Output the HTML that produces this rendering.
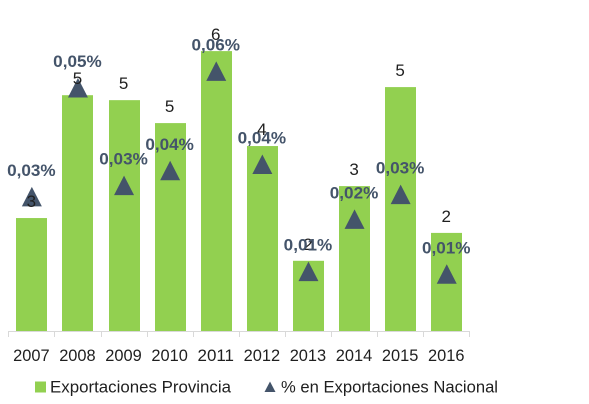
<!DOCTYPE html>
<html lang="es">
<head>
<meta charset="utf-8">
<title>Exportaciones Provincia</title>
<style>
html,body{margin:0;padding:0;background:#fff;}
body{width:589px;height:404px;overflow:hidden;}
svg{display:block;font-family:"Liberation Sans",sans-serif;}
</style>
</head>
<body>
<svg id="chart" width="589" height="404" viewBox="0 0 589 404" xmlns="http://www.w3.org/2000/svg">
  <rect x="0" y="0" width="589" height="404" fill="#ffffff"/>
  <g id="bars"></g>
  <g id="axis"></g>
  <g id="markers"></g>
  <g id="barLabels"></g>
  <g id="pctLabels"></g>
  <g>
    <g>
      <rect x="35" y="381.5" width="11" height="11" fill="#92D050"/>
      <text x="50" y="392.5" font-size="17" fill="#1f1f1f" textLength="181" lengthAdjust="spacingAndGlyphs">Exportaciones Provincia</text>
    </g>
    <g>
      <polygon points="270,381.5 275.5,392 264.5,392" fill="#44546A"/>
      <text x="281" y="392.5" font-size="17" fill="#1f1f1f" textLength="217" lengthAdjust="spacingAndGlyphs">% en Exportaciones Nacional</text>
    </g>
  </g>
</svg>
<script>
const categories = ["2007","2008","2009","2010","2011","2012","2013","2014","2015","2016"];
const exportValues = [2.51,5.24,5.13,4.62,6.22,4.11,1.56,3.22,5.42,2.18];
const percentValues = [0.0298,0.054,0.0323,0.0356,0.0577,0.037,0.0132,0.0248,0.0303,0.0126];

const NS = "http://www.w3.org/2000/svg";
const plotLeft = 8.8, bandWidth = 46.1, baseY = 331;
const barPxPerUnit = 45, pctPxPerUnit = 4500, barWidth = 31;

function xScale(i){ return plotLeft + bandWidth * (i + 0.5); }
function yBar(v){ return baseY - v * barPxPerUnit; }
function yPct(v){ return baseY - v * pctPxPerUnit; }
function make(tag, attrs, parent){
  const el = document.createElementNS(NS, tag);
  for (const k in attrs) el.setAttribute(k, attrs[k]);
  parent.appendChild(el);
  return el;
}

const barsG = document.getElementById("bars");
const axisG = document.getElementById("axis");
const markersG = document.getElementById("markers");
const barLabelsG = document.getElementById("barLabels");
const pctLabelsG = document.getElementById("pctLabels");

const axisLine = make("line", {x1: plotLeft, x2: plotLeft + bandWidth * categories.length, y1: baseY + 0.5, y2: baseY + 0.5, stroke: "#D9D9D9", "stroke-width": 1}, axisG);



for (let t = 0; t <= categories.length; t++) {
  const tx = Math.round(plotLeft + bandWidth * t - 0.5) + 0.5;
  const tick = make("line", {x1: tx, x2: tx, y1: baseY, y2: baseY + 6, stroke: "#D9D9D9", "stroke-width": 1}, axisG);
  
  
}

categories.forEach(function(cat, i){
  const cx = xScale(i);

  const bar = make("rect", {x: Math.round(cx - barWidth / 2), y: yBar(exportValues[i]), width: barWidth, height: baseY - yBar(exportValues[i]), fill: "#92D050"}, barsG);
  
  

  const yearLabel = make("text", {x: cx - 0.5, y: 361, "font-size": 17, fill: "#1f1f1f", "text-anchor": "middle", textLength: 36.5, lengthAdjust: "spacingAndGlyphs"}, axisG);
  yearLabel.textContent = cat;
  
  

  const my = yPct(percentValues[i]);
  const marker = make("polygon", {points: cx + "," + (my - 10) + " " + (cx + 10) + "," + (my + 9.5) + " " + (cx - 10) + "," + (my + 9.5), fill: "#44546A"}, markersG);
  
  

  const barLabel = make("text", {x: cx - 0.5, y: yBar(exportValues[i]) - 11, "font-size": 17, fill: "#1f1f1f", "text-anchor": "middle"}, barLabelsG);
  barLabel.textContent = exportValues[i].toFixed(0);
  
  

  const pctLabel = make("text", {x: cx - 0.5, y: my - 21, "font-size": 17, "font-weight": "bold", fill: "#44546A", "text-anchor": "middle", textLength: 48.5, lengthAdjust: "spacingAndGlyphs"}, pctLabelsG);
  pctLabel.textContent = percentValues[i].toFixed(2).replace(".", ",") + "%";
  
  
});
</script>
</body>
</html>
